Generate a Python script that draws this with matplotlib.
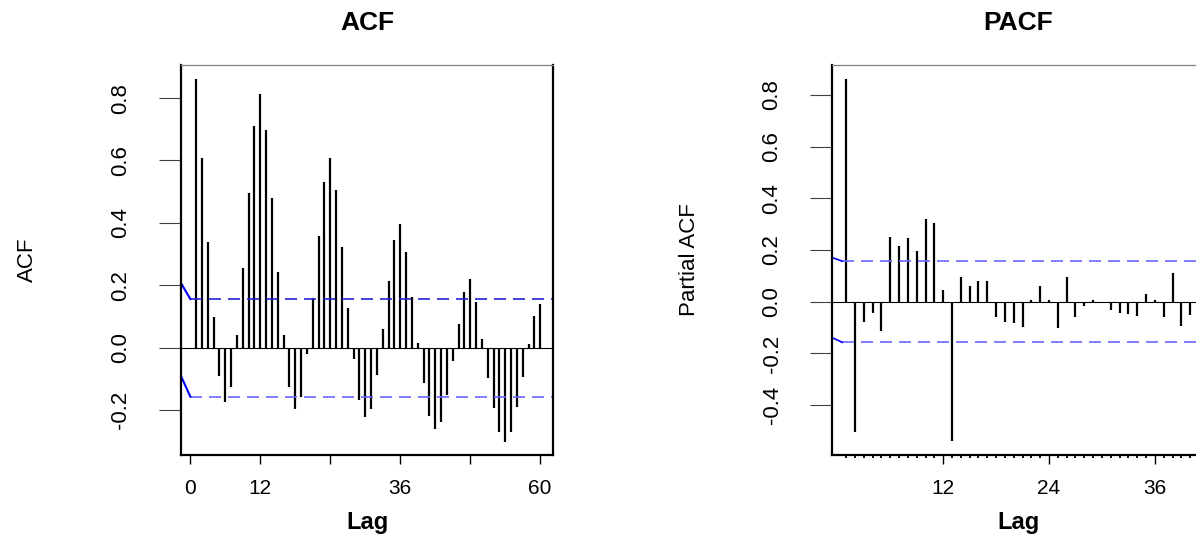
import numpy as np
from matplotlib import pyplot as plt

'''
DATA
'''

# ACF, lags 1..60
acf_lags = np.arange(1, 61)
acf_vals = [0.860, 0.609, 0.339, 0.099, -0.091, -0.173, -0.125, 0.040, 0.256, 0.495,
            0.711, 0.814, 0.698, 0.479, 0.243, 0.040, -0.125, -0.198, -0.157, -0.020,
            0.158, 0.359, 0.531, 0.607, 0.504, 0.322, 0.127, -0.037, -0.168, -0.221,
            -0.198, -0.088, 0.059, 0.214, 0.345, 0.395, 0.307, 0.161, 0.014, -0.114,
            -0.218, -0.261, -0.239, -0.152, -0.042, 0.076, 0.180, 0.219, 0.145, 0.027,
            -0.098, -0.194, -0.271, -0.301, -0.271, -0.191, -0.095, 0.012, 0.103, 0.139]

# PACF, lags 1..40
pacf_lags = np.arange(1, 41)
pacf_vals = [0.863, -0.504, -0.080, -0.044, -0.112, 0.249, 0.214, 0.245, 0.198, 0.322,
             0.303, 0.046, -0.537, 0.097, 0.062, 0.079, 0.079, -0.060, -0.080, -0.084,
             -0.099, 0.006, 0.062, 0.006, -0.103, 0.094, -0.060, -0.018, 0.006, -0.005,
             -0.031, -0.044, -0.048, -0.057, 0.030, 0.006, -0.060, 0.113, -0.095, -0.051]

# confidence bounds
ci = 0.157

# short solid lead-in pieces of the bounds at the left edge
acf_lead_x = [-1.6, 0.0]
acf_lead_up = [0.207, 0.156]
acf_lead_lo = [-0.091, -0.157]
pacf_lead_x = [-0.57, 0.55]
pacf_lead_up = [0.171, 0.157]
pacf_lead_lo = [-0.139, -0.157]

acf_yticks = [-0.2, 0.0, 0.2, 0.4, 0.6, 0.8]
pacf_yticks = [-0.4, -0.2, 0.0, 0.2, 0.4, 0.6, 0.8]
acf_xticks = [0, 12, 24, 36, 48, 60]
acf_xticklabels = ['0', '12', '', '36', '', '60']
pacf_xticks = [12, 24, 36]

'''
FIGURE
'''

plt.rcParams['font.family'] = ['Liberation Sans', 'DejaVu Sans']

fig = plt.figure(figsize=(11.96, 5.39), dpi=100)
ax1 = fig.add_axes([181/1196, 84/539, 372/1196, 390/539])
ax2 = fig.add_axes([832.3/1196, 84/539, 371.7/1196, 390/539])

dash = (0, (7.2, 4.2))

def style_axes(ax, title, ylabel, yticks, ylab_x):
	for side in ['left', 'bottom', 'right']:
		ax.spines[side].set_linewidth(1.6)
		ax.spines[side].set_color('black')
	ax.spines['top'].set_linewidth(0.9)
	ax.spines['top'].set_color('#808080')
	ax.set_yticks(yticks)
	ax.set_yticklabels(['%.1f' % v for v in yticks], fontsize=16,
					   rotation=90, va='center')
	ax.tick_params(axis='y', length=15.8, width=0.8, color='#404040', pad=20)
	ax.tick_params(axis='x', length=6.5, width=1.0, color='black', pad=11, labelsize=15)
	ax.set_title(title, fontweight='bold', fontsize=19, pad=25)
	ax.set_xlabel('Lag', fontweight='bold', fontsize=17)
	ax.xaxis.set_label_coords(0.5, -0.172)
	ax.xaxis.label.set_va('center')
	ax.set_ylabel(ylabel, fontsize=16)
	ax.yaxis.set_label_coords(ylab_x, 0.5)
	ax.yaxis.label.set_va('center')

# ACF panel
ax1.vlines(acf_lags, 0, acf_vals, color='black', lw=1.6)
ax1.axhline(0, color='black', lw=0.8)
ax1.plot([0, 62.2], [ci, ci], color='#2424d8', lw=1.2, ls=dash)
ax1.plot([0, 62.2], [-ci, -ci], color='#6868ff', lw=1.2, ls=dash)
ax1.plot(acf_lead_x, acf_lead_up, color='#0000ff', lw=1.5)
ax1.plot(acf_lead_x, acf_lead_lo, color='#0000ff', lw=1.5)
ax1.set_xlim(-1.6, 62.2)
ax1.set_ylim(-0.344, 0.906)
ax1.set_xticks(acf_xticks)
ax1.set_xticklabels(acf_xticklabels)
style_axes(ax1, 'ACF', 'ACF', acf_yticks, -0.414)

# PACF panel
ax2.vlines(pacf_lags, 0, pacf_vals, color='black', lw=1.6)
ax2.axhline(0, color='black', lw=0.8)
ax2.plot([0.55, 41.6], [ci, ci], color='#6868ff', lw=1.2, ls=dash)
ax2.plot([0.55, 41.6], [-ci, -ci], color='#6868ff', lw=1.2, ls=dash)
ax2.plot(pacf_lead_x, pacf_lead_up, color='#0000ff', lw=1.2)
ax2.plot(pacf_lead_x, pacf_lead_lo, color='#0000ff', lw=1.2)
ax2.set_xlim(-0.57, 41.57)
ax2.set_ylim(-0.593, 0.916)
ax2.set_xticks(pacf_xticks)
ax2.set_xticks([l for l in pacf_lags if l not in pacf_xticks], minor=True)
ax2.tick_params(axis='x', which='minor', length=2.2, width=1.3, color='black')
style_axes(ax2, 'PACF', 'Partial ACF', pacf_yticks, -0.383)

fig.savefig('out.png', dpi=100)
